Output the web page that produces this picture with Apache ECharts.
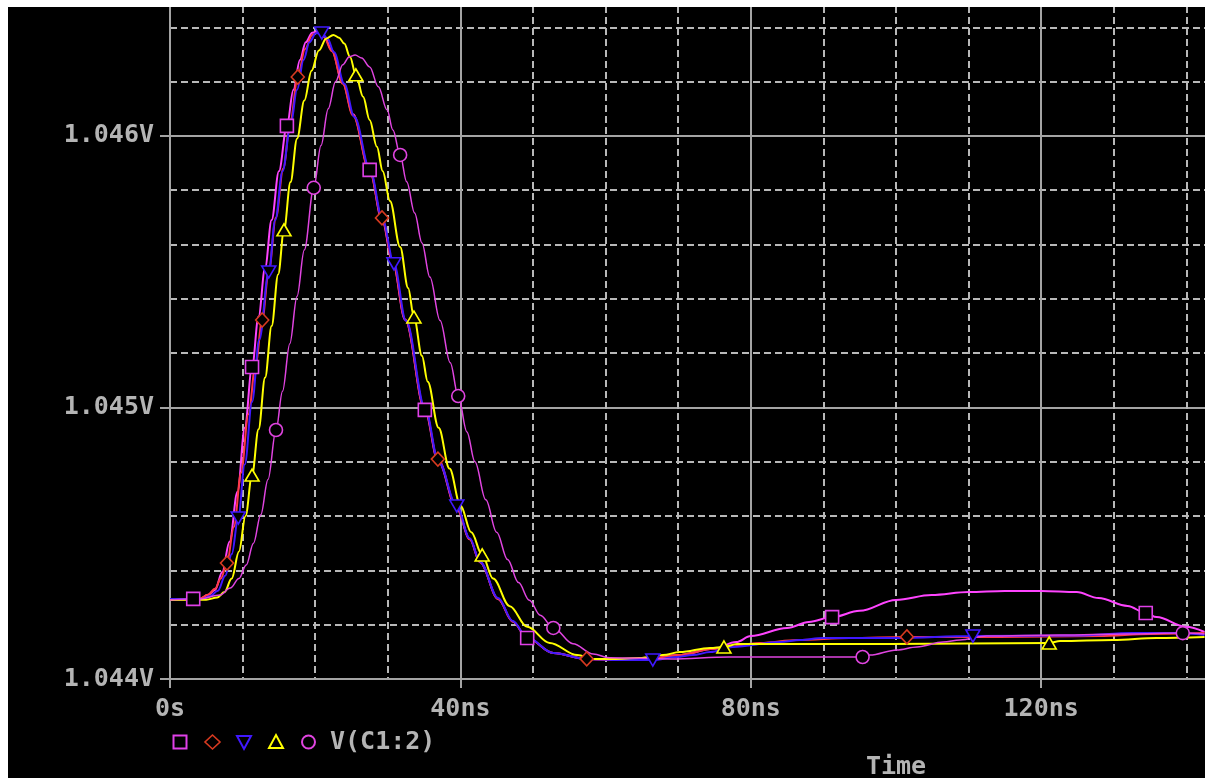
<!DOCTYPE html>
<html><head><meta charset="utf-8">
<script src="https://cdn.jsdelivr.net/npm/echarts@6/dist/echarts.min.js"></script>
<style>
html,body{margin:0;padding:0;background:#fff;width:1205px;height:778px;overflow:hidden}
#wrap{position:absolute;left:8px;top:7px;width:1197px;height:771px;background:#000;overflow:hidden}
#c{position:absolute;left:0;top:-34px;width:1251px;height:805px;background:#000}
</style></head><body><div id="wrap"><div id="c"></div></div>
<script>
// ---- data (time in ns, voltage in V) ----
const legendText = 'V(C1:2)';
const xTitle = 'Time';
const xLabelTicks = [0, 40, 80, 120];        // ns
const yLabelTicks = [1.044, 1.045, 1.046];   // V

const sqTrace = [[0,1.044295],[3.2,1.044295],[4.1,1.044295],[5.2,1.044309],[6.2,1.044328],[7.2,1.044394],[8.2,1.044505],[9.3,1.044690],[10.3,1.044925],[11.3,1.045149],[12.2,1.045335],[13.1,1.045515],[14.0,1.045690],[15.0,1.045870],[16.1,1.046037],[17.0,1.046170],[17.9,1.046280],[18.7,1.046345],[19.6,1.046380],[20.4,1.046385],[21.2,1.046368],[22.3,1.046315],[23.8,1.046195],[25.2,1.046080],[27.5,1.045875],[29.2,1.045691],[30.7,1.045532],[32.4,1.045322],[35.1,1.044991],[36.9,1.044805],[39.5,1.044628],[41.3,1.044515],[42.7,1.044430],[45.2,1.044295],[47.2,1.044212],[49.2,1.044151],[52.8,1.044096],[57.4,1.044074],[62.0,1.044070],[66.1,1.044074],[70.0,1.044088],[74.9,1.044111],[78.0,1.044136],[80.0,1.044158],[85.0,1.044188],[88.0,1.044210],[91.2,1.044228],[95.0,1.044251],[100.0,1.044291],[104.9,1.044309],[110.0,1.044320],[115.0,1.044324],[120.0,1.044324],[124.9,1.044320],[127.9,1.044298],[131.9,1.044269],[134.4,1.044243],[135.9,1.044228],[139.9,1.044192],[142.5,1.044173]];
const sqMarks = [3.2, 11.3, 16.1, 27.5, 35.1, 49.2, 91.2, 134.4];

const diaTrace = [[0,1.044295],[4.1,1.044295],[5.2,1.044310],[6.2,1.044332],[7.0,1.044370],[7.85,1.044427],[8.8,1.044560],[9.8,1.044760],[10.8,1.044975],[11.8,1.045160],[12.7,1.045322],[13.6,1.045500],[14.6,1.045700],[15.6,1.045880],[16.6,1.046060],[17.6,1.046217],[18.6,1.046320],[19.6,1.046372],[20.4,1.046382],[21.2,1.046364],[22.3,1.046312],[23.8,1.046192],[25.2,1.046076],[27.5,1.045870],[29.2,1.045698],[30.7,1.045535],[32.4,1.045325],[35.1,1.044995],[36.9,1.044810],[39.5,1.044630],[41.3,1.044515],[42.7,1.044430],[45.2,1.044295],[47.2,1.044212],[49.2,1.044151],[52.8,1.044096],[57.4,1.044074],[62.0,1.044070],[66.1,1.044074],[70.0,1.044088],[74.9,1.044111],[81.3,1.044133],[86.4,1.044144],[93.6,1.044151],[101.5,1.044155],[114.3,1.044155],[128.0,1.044158],[135.0,1.044166],[142.5,1.044169]];
const diaMarks = [7.85, 12.7, 17.6, 29.2, 36.9, 57.4, 101.5];

const tdTrace = [[0,1.044295],[4.5,1.044295],[5.5,1.044305],[6.6,1.044325],[7.6,1.044380],[8.5,1.044460],[9.4,1.044593],[10.3,1.044790],[11.3,1.045020],[12.3,1.045250],[13.6,1.045499],[14.5,1.045690],[15.5,1.045870],[16.6,1.046037],[17.5,1.046170],[18.4,1.046280],[19.2,1.046345],[20.1,1.046378],[20.9,1.046379],[21.7,1.046358],[22.6,1.046308],[24.0,1.046192],[25.4,1.046070],[27.6,1.045870],[29.3,1.045690],[30.85,1.045529],[32.5,1.045320],[35.2,1.044990],[37.0,1.044800],[39.5,1.044637],[41.3,1.044518],[42.7,1.044432],[45.2,1.044298],[47.2,1.044214],[49.2,1.044153],[52.8,1.044096],[57.4,1.044074],[62.0,1.044070],[66.5,1.044070],[69.8,1.044081],[72.0,1.044088],[74.4,1.044099],[77.5,1.044118],[84.0,1.044136],[86.8,1.044144],[89.9,1.044151],[100.1,1.044151],[110.6,1.044158],[125.0,1.044160],[132.6,1.044169],[138.7,1.044169],[142.5,1.044162]];
const tdMarks = [9.4, 13.6, 20.9, 30.85, 39.5, 66.5, 110.6];

const tuTrace = [[0,1.044291],[5.0,1.044292],[6.5,1.044300],[7.5,1.044320],[8.5,1.044370],[9.5,1.044470],[10.4,1.044600],[11.3,1.044751],[12.2,1.044920],[13.1,1.045110],[14.0,1.045300],[14.9,1.045490],[15.7,1.045654],[16.6,1.045830],[17.5,1.045990],[18.5,1.046130],[19.5,1.046240],[20.5,1.046315],[21.5,1.046358],[22.5,1.046372],[23.3,1.046362],[24.0,1.046340],[24.8,1.046291],[25.6,1.046225],[26.6,1.046144],[27.5,1.046059],[28.5,1.045960],[29.3,1.045870],[30.3,1.045760],[31.7,1.045591],[32.8,1.045440],[33.6,1.045333],[34.7,1.045190],[35.5,1.045095],[37.0,1.044925],[38.5,1.044775],[40.0,1.044640],[41.5,1.044540],[43.0,1.044457],[44.5,1.044370],[46.8,1.044268],[49.2,1.044192],[52.3,1.044133],[56.1,1.044088],[58.3,1.044074],[61.0,1.044074],[64.7,1.044077],[67.9,1.044088],[70.2,1.044099],[74.4,1.044114],[76.3,1.044118],[78.1,1.044129],[86.8,1.044129],[99.2,1.044129],[110.0,1.044131],[121.1,1.044133],[122.6,1.044140],[129.9,1.044144],[135.9,1.044151],[142.5,1.044155]];
const tuMarks = [11.3, 15.7, 25.6, 33.6, 43.0, 76.3, 121.1];

const ciTrace = [[0,1.044291],[4.1,1.044295],[6.9,1.044309],[8.3,1.044335],[9.5,1.044370],[10.5,1.044420],[11.5,1.044500],[12.5,1.044605],[13.5,1.044735],[14.6,1.044917],[15.5,1.045060],[16.5,1.045235],[17.5,1.045410],[18.5,1.045580],[19.8,1.045809],[20.8,1.045965],[21.8,1.046100],[22.8,1.046200],[23.8,1.046262],[24.7,1.046292],[25.5,1.046298],[26.4,1.046287],[27.5,1.046254],[28.7,1.046181],[29.9,1.046096],[30.7,1.046022],[31.7,1.045930],[32.6,1.045831],[33.7,1.045716],[34.7,1.045606],[35.8,1.045480],[37.2,1.045320],[38.6,1.045165],[39.7,1.045042],[40.9,1.044910],[42.0,1.044800],[43.5,1.044660],[45.0,1.044540],[46.5,1.044440],[48.0,1.044355],[49.5,1.044290],[51.0,1.044235],[52.8,1.044188],[55.5,1.044130],[58.3,1.044092],[60.6,1.044078],[69.0,1.044074],[77.0,1.044081],[95.4,1.044081],[96.4,1.044088],[100.1,1.044107],[102.9,1.044118],[106.5,1.044136],[108.8,1.044144],[112.5,1.044158],[122.6,1.044162],[131.9,1.044166],[139.5,1.044169],[142.5,1.044166]];
const ciMarks = [14.6, 19.8, 31.7, 39.7, 52.8, 95.4, 139.5];

// ---- styling ----
const TXT = '#b4b4b4', GRID = '#a4a4a4', DASH = '#b8b8b8';
const FONT = {color: TXT, fontFamily: 'DejaVu Sans Mono', fontWeight: 'bold', fontSize: 25};
const traces = [
  {id:'sq',  pts: sqTrace,  marks: sqMarks,  line:'#ff44ff', mark:'#e040e8', symbol:'rect',     size:13, rot:0,   w:2},
  {id:'dia', pts: diaTrace, marks: diaMarks, line:'#ff3a44', mark:'#d83a20', symbol:'diamond',  size:[13,14], rot:0, w:2},
  {id:'td',  pts: tdTrace,  marks: tdMarks,  line:'#4018ff', mark:'#4018ff', symbol:'triangle', size:[14,12], rot:180, w:2},
  {id:'tu',  pts: tuTrace,  marks: tuMarks,  line:'#ffff00', mark:'#ffff00', symbol:'triangle', size:[14,12], rot:0, w:2},
  {id:'ci',  pts: ciTrace,  marks: ciMarks,  line:'#e044e0', mark:'#e044e0', symbol:'circle',   size:13, rot:0,   w:1.5}
];

const series = traces.map(t => ({
  name: legendText + '_' + t.id,
  type: 'line',
  xAxisIndex: 0, yAxisIndex: 0,
  smooth: 0.35, smoothMonotone: 'x',
  symbol: 'none',
  lineStyle: {color: t.line, width: t.w},
  itemStyle: {color: '#000', borderColor: t.mark, borderWidth: 1.6},
  emphasis: {disabled: true},
  silent: true,
  data: t.pts.map(p => t.marks.includes(p[0])
    ? {value: p, symbol: t.symbol, symbolSize: t.size, symbolRotate: t.rot}
    : {value: p, symbol: 'none'})
}));

// legend + axis title drawn as graphics (chart coords = page coords - (8, -27))
const OX = 8, OY = -27;
const lgY = 742 - OY;
const gx = x => x - OX;
const graphics = [
  {type:'rect', shape:{x:gx(180)-6.5, y:lgY-6.5, width:13, height:13}, style:{fill:'none', stroke:traces[0].mark, lineWidth:2}},
  {type:'polygon', shape:{points:[[gx(212.5),lgY-7],[gx(220),lgY],[gx(212.5),lgY+7],[gx(205),lgY]]}, style:{fill:'none', stroke:traces[1].mark, lineWidth:1.6}},
  {type:'polygon', shape:{points:[[gx(237),lgY-6],[gx(251),lgY-6],[gx(244),lgY+7]]}, style:{fill:'none', stroke:traces[2].mark, lineWidth:2}},
  {type:'polygon', shape:{points:[[gx(269),lgY+6],[gx(283),lgY+6],[gx(276),lgY-7]]}, style:{fill:'none', stroke:traces[3].mark, lineWidth:2}},
  {type:'circle', shape:{cx:gx(308.5), cy:lgY, r:6.5}, style:{fill:'none', stroke:traces[4].mark, lineWidth:2}},
  {type:'text', x:gx(330), y:lgY, style:{text: legendText, fill: TXT, verticalAlign:'middle', align:'left', font:'bold 25px "DejaVu Sans Mono"'}},
  {type:'text', x:gx(896), y:755 - OY, style:{text: xTitle, fill: TXT, verticalAlign:'top', align:'center', font:'bold 25px "DejaVu Sans Mono"'}}
];

const X_MIN = 0, X_MAX = 150, Y_MIN = 1.044, Y_MAX = 1.0466;

const option = {
  backgroundColor: '#000',
  animation: false,
  grid: {left: 162, right: 0, top: 0, bottom: 99, containLabel: false},
  xAxis: [
    {type:'value', min:X_MIN, max:X_MAX, interval:10, position:'bottom',
     axisLine:{show:false}, axisTick:{show:false}, axisLabel:{show:false},
     splitLine:{show:true, lineStyle:{color:DASH, width:2, type:[7,4]}}},
    {type:'value', min:X_MIN, max:X_MAX, interval:40, position:'bottom',
     axisLine:{show:true, onZero:false, lineStyle:{color:GRID, width:2}},
     axisTick:{show:true, length:9, lineStyle:{color:GRID, width:2}},
     axisLabel:Object.assign({margin:18, showMaxLabel:false,
       formatter: v => xLabelTicks.includes(v) ? (v === 0 ? '0s' : v + 'ns') : ''}, FONT),
     splitLine:{show:true, lineStyle:{color:GRID, width:2, type:'solid'}}}
  ],
  yAxis: [
    {type:'value', min:Y_MIN, max:Y_MAX, interval:0.0002, position:'left',
     axisLine:{show:false}, axisTick:{show:false}, axisLabel:{show:false},
     splitLine:{show:true, lineStyle:{color:DASH, width:2, type:[7,4]}}},
    {type:'value', min:Y_MIN, max:Y_MAX, interval:0.001, position:'left',
     axisLine:{show:true, onZero:false, lineStyle:{color:GRID, width:2}},
     axisTick:{show:true, length:10, lineStyle:{color:GRID, width:2}},
     axisLabel:Object.assign({margin:16, showMaxLabel:false,
       formatter: v => yLabelTicks.some(t => Math.abs(t - v) < 1e-7) ? v.toFixed(3) + 'V' : ''}, FONT),
     splitLine:{show:true, lineStyle:{color:GRID, width:2, type:'solid'}}}
  ],
  graphic: graphics,
  series: series
};

const chart = echarts.init(document.getElementById('c'), null, {renderer:'canvas'});
chart.setOption(option);
</script></body></html>
